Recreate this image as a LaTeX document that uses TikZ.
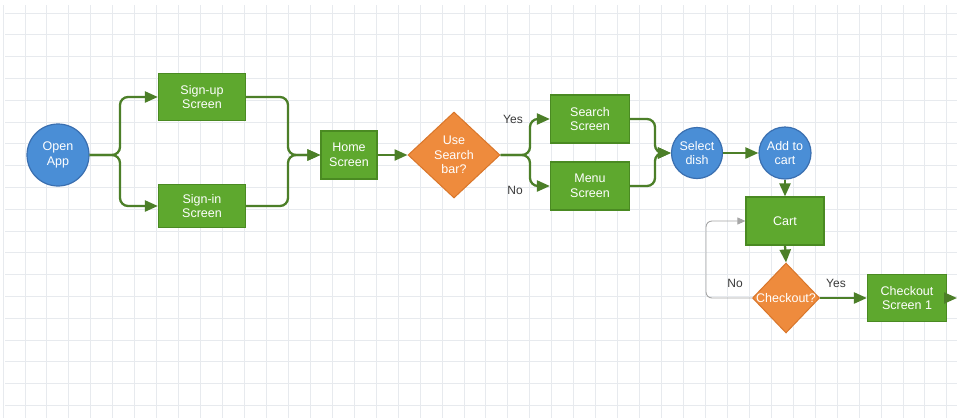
\documentclass[tikz,border=0pt]{standalone}
\usepackage{fontspec}
\setmainfont{Liberation Sans}
\usetikzlibrary{arrows.meta,shapes.geometric}
\definecolor{boxgreen}{HTML}{5EA82E}
\definecolor{boxedge}{HTML}{4A8A22}
\definecolor{circblue}{HTML}{4A8ED6}
\definecolor{circedge}{HTML}{3A6FB0}
\definecolor{diaorange}{HTML}{EE8B3D}
\definecolor{diaedge}{HTML}{D9762A}
\definecolor{linegreen}{HTML}{4C7F28}
\definecolor{gridgray}{HTML}{E7EAEE}
\definecolor{labelgray}{HTML}{3A3A3A}
\begin{document}
\begin{tikzpicture}[x=1pt,y=-1pt,
  txt/.style={font=\fontsize{12.5}{14.5}\selectfont},
  box/.style={draw=boxedge,fill=boxgreen,line width=1.2pt,minimum width=87pt,minimum height=46pt,text=white,align=center,txt,inner sep=0pt},
  circ/.style={circle,draw=circedge,fill=circblue,line width=1.2pt,text=white,align=center,txt,inner sep=0pt},
  dia/.style={diamond,draw=diaedge,fill=diaorange,line width=1pt,inner sep=0pt},
  diatext/.style={text=white,align=center,txt,inner sep=0pt},
  conn/.style={draw=linegreen,line width=2.3pt,rounded corners=8pt,-{Triangle[length=13pt,width=11pt]}},
  noloop/.style={draw=gray!70,line width=0.9pt,rounded corners=6pt,-{Triangle[length=8pt,width=7pt]}},
  lbl/.style={text=labelgray,font=\fontsize{12}{14}\selectfont,inner sep=0pt}
]
\useasboundingbox (0,0) rectangle (957,418);
\fill[white] (0,0) rectangle (957,418);
% grid
\foreach \i in {0,...,43} {\draw[gridgray,line width=0.9pt] ({3+21.95*\i},5) -- ({3+21.95*\i},418);}
\foreach \j in {0,...,18} {\draw[gridgray,line width=0.9pt] (5,{13+21.8*\j}) -- (957,{13+21.8*\j});}

% nodes
\node[circ,minimum size=62pt] (open) at (58,155) {Open\\App};
\node[box,minimum height=47pt] (signup) at (202,97) {Sign-up\\Screen};
\node[box,minimum height=43pt] (signin) at (202,206) {Sign-in\\Screen};
\node[box,minimum width=56pt,minimum height=48pt] (home) at (349,155) {Home\\Screen};
\node[dia,minimum width=92pt,minimum height=86pt] (q1) at (454,155) {};
\node[diatext] (q1t) at (454,155) {Use\\Search\\bar?};
\node[box,minimum width=79pt,minimum height=48pt] (search) at (590,119) {Search\\Screen};
\node[box,minimum width=79pt,minimum height=48pt] (menu) at (590,186) {Menu\\Screen};
\node[circ,minimum size=51pt] (sel) at (697,153) {Select\\dish};
\node[circ,minimum size=52pt] (add) at (785,153) {Add to\\cart};
\node[box,minimum width=78pt,minimum height=48pt] (cart) at (785,221) {Cart};
\node[dia,minimum width=67pt,minimum height=70pt] (chk) at (786,298) {};
\node[diatext] (chkt) at (786,298) {Checkout?};
\node[box,minimum width=79pt,minimum height=47pt] (co1) at (907,298) {Checkout\\Screen 1};
\coordinate (out) at (957,298);

% labels
\node[lbl] (yes1) at (513,119) {Yes};
\node[lbl] (no1) at (515,190) {No};
\node[lbl] (no2) at (735,283) {No};
\node[lbl] (yes2) at (836,283) {Yes};

% connectors
\draw[conn] (open.east) -- (120,155) |- (signup.west);
\draw[conn] (open.east) -- (120,155) |- (signin.west);
\draw[conn] (signup.east) -| (288,155) -- (home.west);
\draw[conn] (signin.east) -| (288,155) -- (home.west);
\draw[conn] (home.east) -- (q1.west);
\draw[conn] (q1.east) -- (530,155) |- (search.west);
\draw[conn] (q1.east) -- (530,155) |- (menu.west);
\draw[conn] (search.east) -| (655,153) -- (sel.west);
\draw[conn] (menu.east) -| (655,153) -- (sel.west);
\draw[conn] (sel.east) -- (add.west);
\draw[conn] (add.south) -- (cart.north);
\draw[conn] (cart.south) -- (chk.north);
\draw[conn] (chk.east) -- (co1.west);
\draw[conn] (co1.east) -- (out);
\draw[noloop] (chk.west) -- (706,298) |- (cart.west);
\end{tikzpicture}
\end{document}
